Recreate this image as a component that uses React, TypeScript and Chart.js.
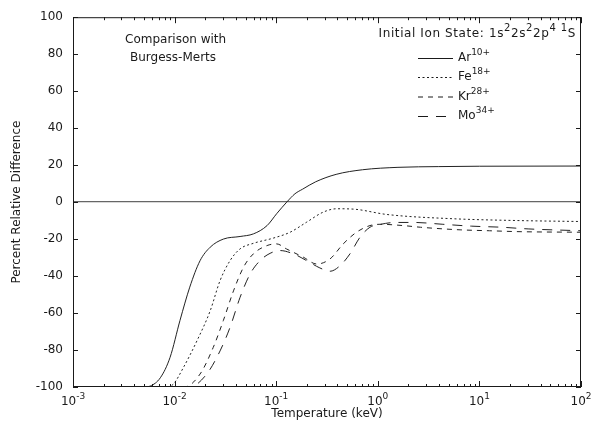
import React, { useEffect, useRef } from "react";
import { Chart, registerables } from "chart.js";

Chart.register(...registerables);

// Temperature (keV) and percent relative difference
const arT = [0.001, 0.005, 0.00575, 0.00724, 0.00902, 0.0113, 0.0141, 0.0178, 0.0224, 0.0302, 0.0441, 0.0596, 0.0813, 0.101, 0.127, 0.153, 0.182, 0.245, 0.389, 0.708, 1.58, 3.98, 10, 100];
const arV = [-100, -100, -99.5, -95, -84, -64, -46, -31.7, -24.4, -20, -18.6, -17.2, -12.7, -6.3, 0, 4.5, 7, 11, 15, 17.5, 18.8, 19.2, 19.4, 19.5];

const feT = [0.001, 0.0085, 0.0097, 0.0122, 0.0166, 0.0224, 0.028, 0.0351, 0.0441, 0.0596, 0.0933, 0.137, 0.2, 0.291, 0.394, 0.575, 1.23, 5.5, 25, 100];
const feV = [-100, -100, -98.5, -89.5, -75, -58.8, -42.5, -31.7, -25.3, -22.3, -19.5, -16.3, -10.8, -5.4, -3.6, -3.8, -6.7, -9, -10, -10.5];

const krT = [0.001, 0.0125, 0.0178, 0.024, 0.0302, 0.038, 0.0479, 0.0596, 0.0813, 0.101, 0.126, 0.185, 0.251, 0.339, 0.457, 0.617, 0.837, 1.05, 1.78, 2.63, 6.46, 12.6, 25.1, 100];
const krV = [-100, -100, -93, -78.6, -64, -48, -35, -28, -23.5, -22.6, -25.3, -29.8, -33.5, -30.7, -22.6, -16.3, -12.7, -12, -12.7, -13.6, -15, -15.5, -16, -16.3];

const moT = [0.001, 0.0141, 0.0207, 0.028, 0.0351, 0.0441, 0.0552, 0.0692, 0.0871, 0.109, 0.148, 0.2, 0.269, 0.339, 0.425, 0.532, 0.668, 0.837, 1.05, 1.48, 2.24, 4.37, 8.32, 16.6, 30.2, 100];
const moV = [-100, -100, -93, -80.5, -67.8, -51.5, -39, -31.7, -27.7, -26.2, -28, -31.7, -35.6, -37.4, -34.4, -28, -19, -13.6, -12.1, -11, -11, -12, -13, -13.6, -14.5, -15.5];

const seriesNames = ["Ar", "Fe", "Kr", "Mo"];
const seriesCharges = ["10+", "18+", "28+", "34+"];
const seriesDashes = [[], [2, 2.5], [5, 5], [10, 8]];

const xTickExponents = [-3, -2, -1, 0, 1, 2];
const yTickValues = [-100, -80, -60, -40, -20, 0, 20, 40, 60, 80, 100];

const noteLines = ["Comparison with", "Burgess-Merts"];
const ionStateParts: [string, boolean][] = [
  ["Initial Ion State: 1s", false], ["2", true], ["2s", false], ["2", true],
  ["2p", false], ["4", true], [" ", false], ["1", true], ["S", false],
];

const FONT = "'DejaVu Sans', 'Liberation Sans', sans-serif";
const INK = "#1a1a1a";

function drawRich(ctx: any, parts: [string, boolean][], x: number, y: number, align: "left" | "right", supSize = 9) {
  const base = `12px ${FONT}`;
  const sup = `${supSize}px ${FONT}`;
  let total = 0;
  for (const [t, s] of parts) {
    ctx.font = s ? sup : base;
    total += ctx.measureText(t).width;
  }
  let cx = align === "right" ? x - total : x;
  ctx.textBaseline = "alphabetic";
  ctx.textAlign = "left";
  for (const [t, s] of parts) {
    ctx.font = s ? sup : base;
    ctx.fillText(t, cx, s ? y - 6 : y);
    cx += ctx.measureText(t).width;
  }
}

const labelPlugin = {
  id: "labels",
  afterDraw(chart: any) {
    const { ctx, chartArea, scales } = chart;
    const { bottom } = chartArea;
    const xs = scales.x;
    ctx.save();
    ctx.fillStyle = INK;
    for (const e of xTickExponents) {
      const px = xs.getPixelForValue(Math.pow(10, e));
      const parts: [string, boolean][] = [["10", false], [String(e), true]];
      let w = 0;
      for (const [t, s] of parts) { ctx.font = `${s ? 9 : 12}px ${FONT}`; w += ctx.measureText(t).width; }
      drawRich(ctx, parts, px - w / 2, bottom + 18, "left");
    }
    // notes
    ctx.font = `12px ${FONT}`;
    ctx.textAlign = "left";
    ctx.textBaseline = "alphabetic";
    ctx.fillText(noteLines[0], 125, 43);
    ctx.fillText(noteLines[1], 130, 61);
    if ("letterSpacing" in ctx) ctx.letterSpacing = "0.6px";
    drawRich(ctx, ionStateParts, 576, 37, "right", 10);
    if ("letterSpacing" in ctx) ctx.letterSpacing = "0px";
    // legend
    const rowY = [58, 77, 96.5, 116];
    chart.data.datasets.forEach((ds: any, i: number) => {
      ctx.strokeStyle = INK;
      ctx.lineWidth = 1;
      ctx.setLineDash(seriesDashes[i]);
      ctx.beginPath();
      ctx.moveTo(418, rowY[i] + 0.5);
      ctx.lineTo(453, rowY[i] + 0.5);
      ctx.stroke();
      ctx.setLineDash([]);
      drawRich(ctx, [[seriesNames[i], false], [seriesCharges[i], true]], 458, rowY[i] + 3, "left");
    });
    ctx.restore();
  },
};

const framePlugin = {
  id: "frameTicks",
  afterDatasetsDraw(chart: any) {
    const { ctx, chartArea, scales } = chart;
    const { left, right, top, bottom } = chartArea;
    const xs = scales.x;
    const ys = scales.y;
    ctx.save();
    ctx.strokeStyle = INK;
    ctx.lineWidth = 1;
    ctx.setLineDash([]);
    ctx.strokeRect(left + 0.5, top + 0.5, right - left - 1, bottom - top - 1);
    const seg = (x1: number, y1: number, x2: number, y2: number) => {
      ctx.beginPath(); ctx.moveTo(x1, y1); ctx.lineTo(x2, y2); ctx.stroke();
    };
    for (const e of xTickExponents) {
      for (let m = 1; m < 10; m++) {
        const v = m * Math.pow(10, e);
        if (v > 100.0001) break;
        const px = Math.round(xs.getPixelForValue(v)) + 0.5;
        const len = m === 1 ? 6 : 3;
        seg(px, bottom, px, bottom - len);
        seg(px, top, px, top + len);
      }
    }
    for (const v of yTickValues) {
      const py = Math.round(ys.getPixelForValue(v)) + 0.5;
      seg(left, py, left + 5, py);
      seg(right, py, right - 5, py);
    }
    ctx.restore();
  },
};

function pts(t: number[], v: number[]) {
  return t.map((x, i) => ({ x, y: v[i] }));
}

export default function App() {
  const ref = useRef<HTMLCanvasElement | null>(null);
  useEffect(() => {
    document.body.style.margin = "0";
    const canvas = ref.current!;
    const series = [pts(arT, arV), pts(feT, feV), pts(krT, krV), pts(moT, moV)];
    const chart = new Chart(canvas, {
      type: "line",
      data: {
        datasets: series.map((d, i) => ({
          label: seriesNames[i] + seriesCharges[i],
          data: d,
          borderColor: "#222",
          borderWidth: 1,
          borderDash: seriesDashes[i],
          pointRadius: 0,
          fill: false,
          cubicInterpolationMode: "monotone" as const,
        })),
      },
      options: {
        animation: false,
        responsive: false,
        maintainAspectRatio: false,
        parsing: false as any,
        layout: { padding: { top: 16, right: 17, left: 0, bottom: 0 } },
        plugins: { legend: { display: false }, tooltip: { enabled: false } },
        scales: {
          x: {
            type: "logarithmic",
            min: 1e-3,
            max: 1e2,
            afterFit: (s: any) => { s.height = 41; },
            ticks: { display: false },
            grid: { display: false },
            border: { display: false },
            title: {
              display: true,
              text: "Temperature (keV)",
              color: INK,
              font: { family: FONT, size: 12 },
              padding: { top: 0, bottom: 7 },
            },
          },
          y: {
            min: -100,
            max: 100,
            afterFit: (s: any) => { s.width = 73; },
            afterBuildTicks: (s: any) => { s.ticks = yTickValues.map((v) => ({ value: v })); },
            ticks: { color: INK, font: { family: FONT, size: 12 }, padding: 10 },
            grid: {
              drawTicks: false,
              lineWidth: 1.3,
              color: (c: any) => (c.tick && c.tick.value === 0 ? "#666" : "rgba(0,0,0,0)"),
            },
            border: { display: false },
            title: {
              display: true,
              text: "Percent Relative Difference",
              color: INK,
              font: { family: FONT, size: 12 },
              padding: { top: 10, bottom: 0 },
            },
          },
        },
      },
      plugins: [framePlugin, labelPlugin],
    } as any);
    return () => chart.destroy();
  }, []);
  return <canvas ref={ref} width={598} height={428} style={{ display: "block" }} />;
}
